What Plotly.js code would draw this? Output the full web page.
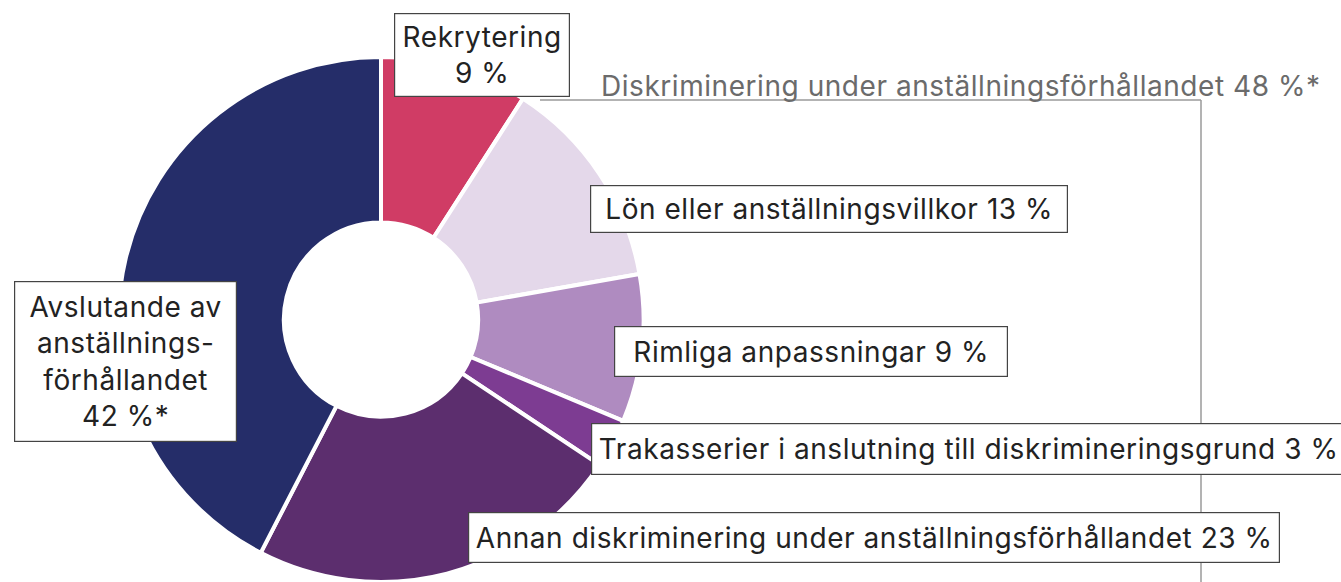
<!DOCTYPE html>
<html>
<head>
<meta charset="utf-8">
<script src="https://cdn.plot.ly/plotly-3.0.1.min.js"></script>
<style>html,body{margin:0;padding:0;background:#fff;}#chart{width:1341px;height:582px;}
#chart .annotation-text{letter-spacing:0.55px;}</style>
</head>
<body>
<div id="chart"></div>
<script>
const categories = ['Rekrytering','Lön eller anställningsvillkor','Rimliga anpassningar','Trakasserier i anslutning till diskrimineringsgrund','Annan diskriminering under anställningsförhållandet','Avslutande av anställningsförhållandet'];
const values = [9, 13, 9, 3, 23, 42];
const labelTexts = ['Rekrytering<br>9 %','Lön eller anställningsvillkor 13 %','Rimliga anpassningar 9 %','Trakasserier i anslutning till diskrimineringsgrund 3 %','Annan diskriminering under anställningsförhållandet 23 %','Avslutande av<br>anställnings-<br>förhållandet<br>42 %*'];
const groupLabel = 'Diskriminering under anställningsförhållandet 48 %*';
const colors = ['#D03C65','#E4D8EA','#AF8BC0','#7D3C92','#5C2E6E','#252D69'];

const W = 1341, H = 582;
const px = x => x / W;
const py = y => 1 - y / H;

// label boxes (pixel geometry): [left, top, right, bottom]
const boxes = [
  [394, 13, 570, 97],
  [590, 185, 1068, 233],
  [614, 326, 1008, 377],
  [591, 423, 1346, 475],
  [468, 512, 1280, 563],
  [14, 281, 237, 442]
];

const font = {family: 'Inter, Roboto, sans-serif', size: 28, color: '#222222'};

const annotations = boxes.map((b, i) => ({
  xref: 'paper', yref: 'paper',
  x: px((b[0] + b[2]) / 2), y: py((b[1] + b[3]) / 2),
  xanchor: 'center', yanchor: 'middle',
  text: labelTexts[i],
  showarrow: false,
  font: font,
  align: 'center',
  bgcolor: '#ffffff',
  bordercolor: '#444444',
  borderwidth: 1.2,
  borderpad: 0,
  width: b[2] - b[0] - 2,
  height: b[3] - b[1] - 2
}));
annotations.push({
  xref: 'paper', yref: 'paper',
  x: px(961), y: py(86), xanchor: 'center', yanchor: 'middle',
  text: groupLabel, showarrow: false,
  font: {family: font.family, size: 28, color: '#6b6b6b'}
});

const shapes = [
  {type: 'line', xref: 'paper', yref: 'paper', x0: px(540), x1: px(1201), y0: py(100), y1: py(100), line: {color: '#9a9a9a', width: 1.5}, layer: 'below'},
  {type: 'line', xref: 'paper', yref: 'paper', x0: px(1201), x1: px(1201), y0: py(100), y1: py(600), line: {color: '#9a9a9a', width: 1.5}, layer: 'below'}
];

const cx = 381, cy = 320, r = 263;
const trace = {
  type: 'pie',
  labels: categories,
  values: values,
  sort: false,
  direction: 'clockwise',
  rotation: 0,
  hole: 0.37,
  textinfo: 'none',
  hoverinfo: 'label+value',
  marker: {colors: colors, line: {color: '#ffffff', width: 4}},
  domain: {x: [px(cx - r), px(cx + r)], y: [py(cy + r), py(cy - r)]},
  showlegend: false
};

Plotly.newPlot('chart', [trace], {
  width: W, height: H,
  margin: {l: 0, r: 0, t: 0, b: 0},
  paper_bgcolor: '#ffffff',
  showlegend: false,
  annotations: annotations,
  shapes: shapes
}, {displayModeBar: false, staticPlot: true});
</script>
</body>
</html>
